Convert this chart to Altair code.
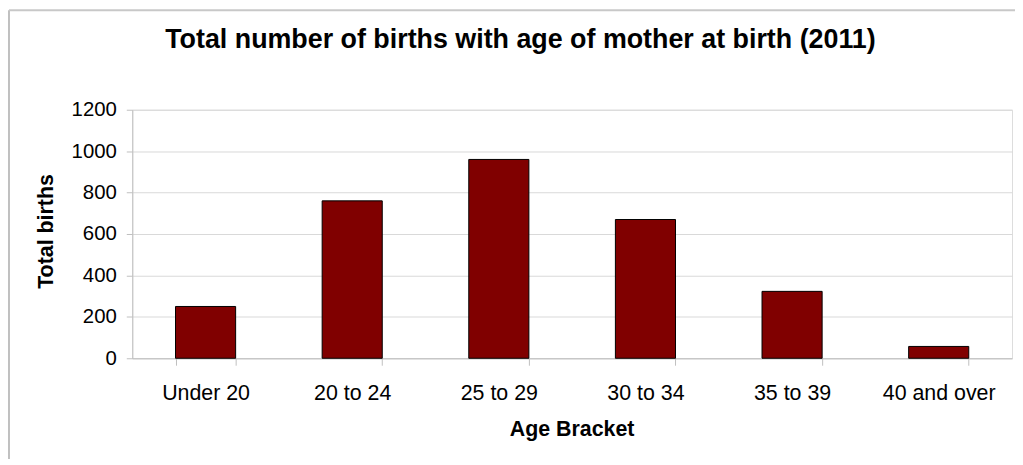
import altair as alt
import pandas as pd

categories = ["Under 20", "20 to 24", "25 to 29", "30 to 34", "35 to 39", "40 and over"]
births = [250, 760, 960, 670, 323, 57]
y_ticks = [0, 200, 400, 600, 800, 1000, 1200]

FONT = "Liberation Sans"

df = pd.DataFrame({"bracket": categories, "births": births})
one = pd.DataFrame({"k": [0]})

bars = alt.Chart(df).mark_bar(color="#800000", stroke="#000000", strokeWidth=1).encode(
    x=alt.X(
        "bracket:N",
        sort=categories,
        scale=alt.Scale(paddingInner=0.59, paddingOuter=0.295),
        axis=alt.Axis(
            title="Age Bracket",
            labelAngle=0,
            tickBand="extent",
            grid=False,
            domainColor="#c0c0c0",
            tickColor="#c0c0c0",
            tickSize=7,
            labelFont=FONT,
            labelFontSize=21.5,
            labelColor="#000000",
            labelBaseline="alphabetic",
            labelPadding=34,
            titleFont=FONT,
            titleFontSize=21.5,
            titleFontWeight="bold",
            titleColor="#000000",
            titleBaseline="alphabetic",
            titleX=442,
            titleY=78,
        ),
    ),
    y=alt.Y(
        "births:Q",
        scale=alt.Scale(domain=[0, 1200]),
        axis=alt.Axis(
            title="Total births",
            values=y_ticks,
            format="d",
            grid=True,
            gridColor="#d9d9d9",
            domainColor="#c0c0c0",
            tickColor="#c0c0c0",
            tickSize=6,
            labelPadding=10,
            labelFont=FONT,
            labelFontSize=20.5,
            labelColor="#000000",
            titleFont=FONT,
            titleFontSize=21.5,
            titleFontWeight="bold",
            titleColor="#000000",
            titleAngle=270,
            titleBaseline="alphabetic",
            titleAlign="center",
            titleX=-80,
            titleY=122,
        ),
    ),
)

left_border = alt.Chart(one).mark_rule(color="#c0c0c0", strokeWidth=2).encode(
    x=alt.value(-124), y=alt.value(-100), y2=alt.value(360)
)
top_border = alt.Chart(one).mark_rule(color="#c8c8c8", strokeWidth=2).encode(
    x=alt.value(-124), x2=alt.value(890), y=alt.value(-100)
)

chart = alt.layer(left_border, top_border, bars).properties(
    width=885,
    height=250,
    autosize=alt.AutoSizeParams(type="none"),
    padding={"left": 125, "top": 101, "right": 3, "bottom": 100},
    title=alt.TitleParams(
        "Total number of births with age of mother at birth (2011)",
        font=FONT,
        fontSize=27,
        fontWeight="bold",
        color="#000000",
        anchor="middle",
        frame="group",
        baseline="alphabetic",
        offset=0,
        dy=66,
        dx=-52,
    ),
).configure_view(stroke=None).configure(background="#ffffff")

chart.save("out.html", embed_options={"renderer": "svg", "actions": False})
